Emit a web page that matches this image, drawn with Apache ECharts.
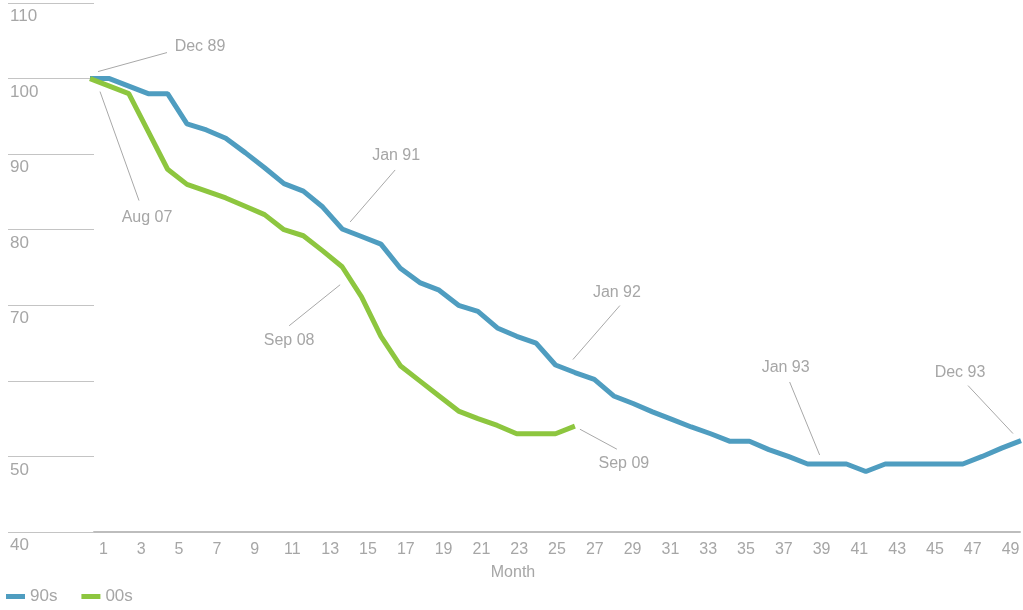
<!DOCTYPE html>
<html>
<head>
<meta charset="utf-8">
<script src="https://cdn.jsdelivr.net/npm/echarts@6/dist/echarts.min.js"></script>
<style>
html,body{margin:0;padding:0;background:#fff;}
#c{width:1023px;height:610px;}
</style>
</head>
<body>
<div id="c"></div>
<script>
// ---- data ----
const months = ['1','2','3','4','5','6','7','8','9','10','11','12','13','14','15','16','17','18','19','20','21','22','23','24','25','26','27','28','29','30','31','32','33','34','35','36','37','38','39','40','41','42','43','44','45','46','47','48','49'];
const seriesNames = ['90s', '00s'];
const values90s = [100,100,99,98,98,94,93.2,92.1,90.2,88.2,86.1,85.1,83,80.1,79.1,78.1,74.9,73,72,70,69.2,67,65.9,65,62.1,61.1,60.2,58,57,55.9,54.9,53.9,53,52,52,50.9,50,49,49,49,48,49,49,49,49,49,50,51.1,52.1];
const values00s = [100,99,98,93,88,86,85.1,84.2,83.1,82,80,79.2,77.2,75.1,71.1,65.9,62,60,58,56,55,54.1,53,53,53,54];
const yTicks = [40,50,60,70,80,90,100,110];
const hiddenYLabels = [60];
const annotations = [
  {series: 0, month: 1,  text: 'Dec 89'},
  {series: 1, month: 1,  text: 'Aug 07'},
  {series: 0, month: 14, text: 'Jan 91'},
  {series: 1, month: 14, text: 'Sep 08'},
  {series: 0, month: 26, text: 'Jan 92'},
  {series: 1, month: 26, text: 'Sep 09'},
  {series: 0, month: 38, text: 'Jan 93'},
  {series: 0, month: 49, text: 'Dec 93'}
];
const xName = 'Month';

// ---- layout / style (offsets in pixels from the annotated point) ----
const annLayout = {
  'Dec 89': {line: [8, -7, 77, -26],   label: [110, -32]},
  'Aug 07': {line: [10, 13, 49, 122],  label: [57, 139]},
  'Jan 91': {line: [8, -7, 53, -59],   label: [54, -73]},
  'Sep 08': {line: [-2, 18, -53, 59],  label: [-53, 74]},
  'Jan 92': {line: [-2, -13, 45, -67], label: [42, -80]},
  'Sep 09': {line: [5, 3, 42, 23],     label: [49, 37]},
  'Jan 93': {line: [-18, -82, 12, -9], label: [-22, -96]},
  'Dec 93': {line: [-53, -55, -8, -7], label: [-61, -68]}
};
const colors = ['#4f9dc0', '#8dc63f'];
const textGray = '#a6a6a6';
const font = '"Liberation Sans", Arial, Helvetica, sans-serif';

const chart = echarts.init(document.getElementById('c'), null, {renderer: 'canvas'});
const yMin = yTicks[0], yMax = yTicks[yTicks.length - 1], yStep = yTicks[1] - yTicks[0];

chart.setOption({
  animation: false,
  color: colors,
  textStyle: {fontFamily: font},
  grid: [
    {left: 94, right: 3, top: 3, bottom: 78},
    {left: 90, right: 2, top: 3, bottom: 78}
  ],
  legend: {
    data: seriesNames,
    left: 6, top: 588, padding: 0,
    icon: 'rect', itemWidth: 19, itemHeight: 5, itemGap: 24,
    textStyle: {fontSize: 17, color: textGray, fontFamily: font}
  },
  xAxis: [
    {
      type: 'category', gridIndex: 0, data: months, boundaryGap: true,
      axisLine: {show: true, lineStyle: {color: '#bdbdbd', width: 2}},
      axisTick: {show: false},
      axisLabel: {interval: 1, margin: 10, fontSize: 16, color: textGray, fontFamily: font},
      splitLine: {show: false}
    },
    {
      type: 'category', gridIndex: 1, data: months, boundaryGap: false, show: false
    }
  ],
  yAxis: [
    {
      type: 'value', gridIndex: 0, min: yMin, max: yMax, interval: yStep,
      axisLine: {show: false},
      axisTick: {show: true, length: 86, lineStyle: {color: '#c4c4c4', width: 1}},
      splitLine: {show: false},
      axisLabel: {
        margin: 84, align: 'left', verticalAlign: 'top', padding: [5, 0, 0, 0],
        fontSize: 17, color: textGray, fontFamily: font,
        formatter: v => hiddenYLabels.indexOf(v) >= 0 ? '' : String(v)
      }
    },
    {
      type: 'value', gridIndex: 1, min: yMin, max: yMax, interval: yStep, show: false
    }
  ],
  series: [
    {
      name: seriesNames[0], type: 'line', xAxisIndex: 1, yAxisIndex: 1,
      data: values90s, showSymbol: false, symbol: 'none',
      lineStyle: {width: 5, color: colors[0]}, itemStyle: {color: colors[0]}
    },
    {
      name: seriesNames[1], type: 'line', xAxisIndex: 1, yAxisIndex: 1,
      data: values00s, showSymbol: false, symbol: 'none',
      lineStyle: {width: 5, color: colors[1]}, itemStyle: {color: colors[1]}
    }
  ]
});

// annotations placed through the library's scales
const seriesData = [values90s, values00s];
const graphics = [];
annotations.forEach(a => {
  const v = seriesData[a.series][a.month - 1];
  const p = chart.convertToPixel({seriesIndex: a.series}, [a.month - 1, v]);
  const L = annLayout[a.text];
  graphics.push({
    type: 'line', silent: true,
    shape: {x1: p[0] + L.line[0], y1: p[1] + L.line[1], x2: p[0] + L.line[2], y2: p[1] + L.line[3]},
    style: {stroke: '#a8a8a8', lineWidth: 1}
  });
  graphics.push({
    type: 'text', silent: true,
    x: p[0] + L.label[0], y: p[1] + L.label[1],
    style: {text: a.text, fill: textGray, font: '16px ' + font, textAlign: 'center', textVerticalAlign: 'middle'}
  });
});
graphics.push({
  type: 'text', silent: true, x: 513, y: 573,
  style: {text: xName, fill: textGray, font: '16px ' + font, textAlign: 'center', textVerticalAlign: 'middle'}
});
chart.setOption({graphic: graphics});
</script>
</body>
</html>
